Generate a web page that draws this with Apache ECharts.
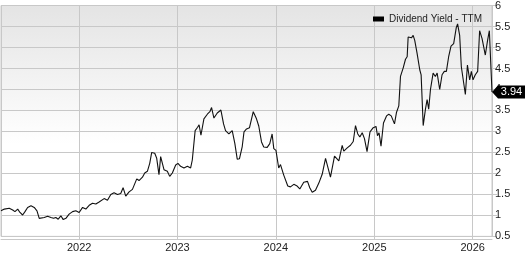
<!DOCTYPE html>
<html>
<head>
<meta charset="utf-8">
<script src="https://cdn.jsdelivr.net/npm/echarts@6/dist/echarts.min.js"></script>
<style>
html,body{margin:0;padding:0;background:#fff;}
#c{width:527px;height:253px;}
</style>
</head>
<body>
<div id="c"></div>
<script>
// decimal years
const decimalYears = [
2021.205,2021.239,2021.256,2021.289,2021.324,2021.347,2021.375,2021.398,2021.425,2021.449,
2021.476,2021.510,2021.543,2021.571,2021.594,2021.611,2021.645,2021.679,2021.713,2021.740,
2021.763,2021.787,2021.814,2021.838,2021.865,2021.898,2021.933,2021.966,2022.000,2022.035,
2022.068,2022.102,2022.136,2022.170,2022.203,
2022.220,2022.254,2022.288,2022.322,2022.355,2022.390,2022.423,2022.447,2022.474,2022.508,
2022.542,2022.558,2022.586,2022.609,2022.644,2022.667,2022.694,2022.718,2022.738,2022.769,
2022.789,2022.812,2022.829,2022.847,2022.863,2022.880,2022.897,2022.921,2022.948,2022.982,
2023.005,2023.032,2023.066,2023.101,2023.134,
2023.151,2023.180,2023.205,2023.220,2023.239,2023.269,2023.304,2023.330,2023.347,2023.371,
2023.405,2023.423,2023.442,2023.469,2023.489,2023.523,2023.557,2023.584,2023.608,2023.631,
2023.659,2023.677,2023.703,2023.733,2023.771,2023.804,2023.827,2023.855,2023.878,2023.913,
2023.939,2023.963,2023.980,2024.002,2024.030,2024.048,
2024.081,2024.098,2024.122,2024.149,2024.183,2024.217,2024.244,2024.284,2024.322,2024.345,
2024.370,2024.403,2024.437,2024.471,2024.505,2024.555,2024.596,2024.640,2024.674,2024.690,
2024.725,2024.758,2024.786,2024.809,2024.832,2024.853,2024.877,2024.900,2024.926,2024.956,
2024.989,2025.017,2025.032,2025.048,2025.068,2025.093,2025.124,
2025.147,2025.172,2025.205,2025.225,2025.249,2025.266,2025.293,2025.317,2025.334,2025.344,
2025.360,2025.378,2025.395,2025.411,2025.435,2025.462,2025.476,2025.497,2025.520,2025.537,
2025.553,2025.571,2025.598,2025.621,2025.639,2025.665,2025.689,2025.712,2025.733,2025.756,
2025.780,2025.807,2025.824,2025.834,2025.847,2025.868,2025.885,2025.903,2025.926,2025.947,
2025.970,2025.987,2026.004,2026.027,2026.051,2026.071,2026.096,2026.129,2026.152,2026.170,
2026.197
];
const yieldValues = [
1.11,1.15,1.19,1.17,1.13,1.09,1.15,1.07,1.01,1.09,
1.19,1.23,1.19,1.11,0.93,0.90,0.95,0.98,0.95,0.93,
0.95,0.91,0.99,0.90,0.93,1.03,1.09,1.11,1.07,1.19,
1.15,1.24,1.29,1.27,1.32,
1.35,1.40,1.36,1.50,1.54,1.50,1.52,1.66,1.46,1.56,
1.62,1.60,1.87,1.83,1.91,2.01,2.05,2.24,2.50,2.48,
2.36,1.97,2.40,2.44,2.09,2.11,2.05,1.93,2.01,2.20,
2.24,2.17,2.13,2.17,2.13,
2.32,3.02,3.10,3.16,2.91,3.30,3.41,3.47,3.57,3.32,
3.44,3.44,3.51,3.18,3.02,2.94,3.02,2.71,2.34,2.35,
2.64,2.99,3.06,3.09,3.47,3.30,3.13,2.75,2.63,2.62,
2.71,2.94,2.59,2.55,2.13,2.21,
1.96,1.93,1.70,1.68,1.74,1.70,1.63,1.79,1.81,1.66,
1.55,1.60,1.77,1.98,2.36,1.91,2.41,2.30,2.67,2.53,
2.61,2.67,2.76,3.14,2.94,2.87,2.97,2.83,2.52,2.99,
3.09,3.12,2.90,2.97,2.65,3.20,3.37,
3.41,3.37,3.18,3.45,3.61,4.31,4.51,4.72,4.78,5.25,
5.29,5.23,5.29,5.17,4.86,4.47,4.35,3.14,3.53,3.76,
3.53,4.00,4.39,4.31,4.39,4.00,4.35,4.43,4.43,4.78,
5.03,5.09,5.09,5.48,5.56,5.29,4.54,4.51,3.88,4.58,
4.23,4.43,4.23,4.35,4.43,5.40,5.21,4.82,5.17,5.40,
3.94
];
const seriesName = 'Dividend Yield - TTM';
const lastLabel = '3.94';

function toTime(dy) {
  const y = Math.floor(dy);
  const a = Date.UTC(y, 0, 1), b = Date.UTC(y + 1, 0, 1);
  return a + (dy - y) * (b - a);
}
const seriesData = decimalYears.map((d, i) => [toTime(d), yieldValues[i]]);
const last = seriesData[seriesData.length - 1];

const chart = echarts.init(document.getElementById('c'), null, {renderer: 'canvas'});
const font = 'Liberation Sans, Arial, sans-serif';
chart.setOption({
  animation: false,
  useUTC: true,
  textStyle: {fontFamily: font},
  grid: {
    left: 1, right: 35, top: 3.6, bottom: 13.7,
    show: true,
    borderColor: '#c8c8c8',
    borderWidth: 1,
    backgroundColor: {
      type: 'linear', x: 0, y: 0, x2: 0, y2: 1,
      colorStops: [
        {offset: 0, color: '#e4e4e4'},
        {offset: 0.6, color: '#ffffff'},
        {offset: 1, color: '#ffffff'}
      ]
    }
  },
  legend: {
    show: true,
    right: 40, top: 9,
    itemWidth: 11, itemHeight: 5,
    itemGap: 6,
    icon: 'rect',
    textStyle: {fontFamily: font, fontSize: 10, color: '#222'},
    data: [{name: seriesName, itemStyle: {color: '#000'}}]
  },
  xAxis: {
    type: 'time',
    min: 'dataMin', max: 'dataMax',
    minInterval: 365 * 86400000,
    maxInterval: 366 * 86400000,
    offset: 2.6,
    axisLine: {show: true, lineStyle: {color: '#c8c8c8', width: 1}},
    axisTick: {show: true, inside: true, length: 3, lineStyle: {color: '#c8c8c8'}},
    axisLabel: {
      margin: 3,
      fontSize: 11,
      color: '#222',
      fontFamily: font,
      showMinLabel: false,
      showMaxLabel: false,
      formatter: function (v) { return String(new Date(v).getUTCFullYear()); }
    },
    splitLine: {show: true, lineStyle: {color: '#c8c8c8', width: 1}}
  },
  yAxis: {
    type: 'value',
    position: 'right',
    min: 0.5, max: 6, interval: 0.5,
    axisLine: {show: true, lineStyle: {color: '#c8c8c8', width: 1}},
    axisTick: {show: true, length: 5, lineStyle: {color: '#c8c8c8'}},
    axisLabel: {margin: 3, fontSize: 11, color: '#222', fontFamily: font},
    splitLine: {show: true, lineStyle: {color: '#c8c8c8', width: 1}}
  },
  series: [{
    name: seriesName,
    type: 'line',
    data: seriesData,
    showSymbol: false,
    symbol: 'none',
    lineStyle: {color: '#111', width: 1.1},
    itemStyle: {color: '#000'},
    z: 3,
    markPoint: {
      silent: true,
      data: [{
        coord: last,
        symbol: 'path://M0,6.5 L6,0 L33,0 L33,13 L6,13 Z',
        symbolSize: [33, 13],
        symbolOffset: [16.5, 0],
        symbolKeepAspect: false,
        itemStyle: {color: '#000'},
        label: {
          show: true,
          position: 'inside',
          offset: [3, 0],
          formatter: lastLabel,
          color: '#fff',
          fontSize: 11,
          fontFamily: font
        }
      }]
    }
  }]
});
</script>
</body>
</html>
